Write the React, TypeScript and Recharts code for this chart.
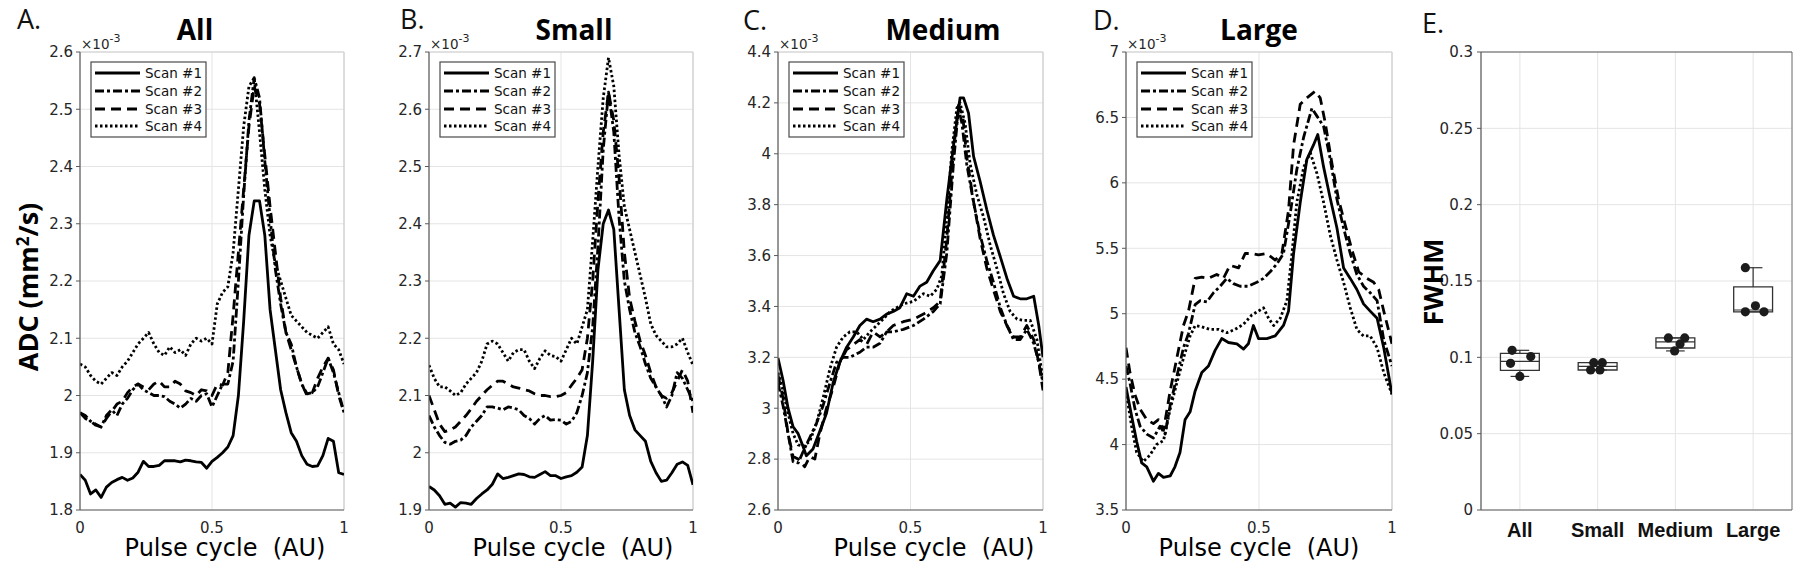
import React from 'react';
import {
  LineChart, Line, XAxis, YAxis, CartesianGrid, ReferenceLine, ReferenceArea,
  ComposedChart, Scatter,
} from 'recharts';

// ---------------- DATA ----------------
const scanNames = ['Scan #1', 'Scan #2', 'Scan #3', 'Scan #4'];
const panelTitles = ['All', 'Small', 'Medium', 'Large'];
const panelLetters = ['A.', 'B.', 'C.', 'D.', 'E.'];
const xTicks = [0, 0.5, 1];

// common pulse-cycle grid for panels A and B
const cycleGrid = [0, 0.02, 0.04, 0.06, 0.08, 0.1, 0.12, 0.14, 0.16, 0.18, 0.2, 0.22, 0.24, 0.26, 0.28, 0.3, 0.32, 0.34, 0.36, 0.38, 0.4, 0.42, 0.44, 0.46, 0.48, 0.5, 0.52, 0.54, 0.56, 0.58, 0.6, 0.62, 0.64, 0.66, 0.68, 0.7, 0.72, 0.74, 0.76, 0.78, 0.8, 0.82, 0.84, 0.86, 0.88, 0.9, 0.92, 0.94, 0.96, 0.98, 1];

// Panel A: All (x10^-3 mm^2/s)
const allScan1 = [1.862, 1.852, 1.828, 1.835, 1.822, 1.84, 1.848, 1.853, 1.857, 1.852, 1.856, 1.866, 1.885, 1.876, 1.876, 1.878, 1.886, 1.886, 1.886, 1.884, 1.887, 1.886, 1.884, 1.883, 1.873, 1.885, 1.892, 1.9, 1.91, 1.93, 2.0, 2.13, 2.28, 2.34, 2.34, 2.28, 2.15, 2.08, 2.01, 1.97, 1.935, 1.92, 1.895, 1.88, 1.876, 1.877, 1.895, 1.925, 1.92, 1.865, 1.862];
const allScan2 = [1.97, 1.965, 1.955, 1.95, 1.945, 1.965, 1.975, 1.965, 1.985, 1.995, 2.01, 2.02, 2.01, 2.005, 2.0, 2.0, 1.998, 1.99, 1.985, 1.978, 1.985, 1.995, 1.99, 2.0, 2.003, 1.98, 2.0, 2.02, 2.02, 2.06, 2.2, 2.35, 2.48, 2.555, 2.52, 2.41, 2.31, 2.22, 2.16, 2.11, 2.09, 2.05, 2.02, 2.003, 2.005, 2.015, 2.04, 2.065, 2.04, 2.005, 1.97];
const allScan3 = [1.97, 1.96, 1.955, 1.948, 1.945, 1.96, 1.972, 1.985, 1.99, 2.005, 2.015, 2.02, 2.015, 2.01, 2.02, 2.025, 2.015, 2.015, 2.025, 2.02, 2.008, 2.005, 2.0, 2.01, 2.008, 2.0, 2.02, 2.018, 2.04, 2.14, 2.25, 2.36, 2.47, 2.54, 2.51, 2.42, 2.33, 2.25, 2.17, 2.11, 2.08, 2.05, 2.02, 2.0, 2.005, 2.03, 2.05, 2.065, 2.045, 2.0, 1.97];
const allScan4 = [2.055, 2.05, 2.035, 2.025, 2.02, 2.03, 2.04, 2.035, 2.05, 2.06, 2.075, 2.09, 2.1, 2.11, 2.09, 2.075, 2.07, 2.085, 2.075, 2.08, 2.07, 2.09, 2.1, 2.095, 2.1, 2.09, 2.16, 2.18, 2.19, 2.25, 2.36, 2.47, 2.54, 2.555, 2.46, 2.36, 2.28, 2.23, 2.2, 2.17, 2.14, 2.13, 2.12, 2.11, 2.105, 2.1, 2.11, 2.12, 2.09, 2.08, 2.055];

// Panel B: Small
const smallScan1 = [1.941, 1.935, 1.925, 1.91, 1.912, 1.905, 1.913, 1.912, 1.91, 1.92, 1.928, 1.935, 1.945, 1.963, 1.955, 1.957, 1.96, 1.963, 1.962, 1.958, 1.957, 1.962, 1.967, 1.96, 1.96, 1.955, 1.958, 1.96, 1.966, 1.975, 2.03, 2.16, 2.32, 2.4, 2.424, 2.39, 2.25, 2.11, 2.065, 2.04, 2.03, 2.02, 1.985, 1.965, 1.95, 1.952, 1.965, 1.98, 1.984, 1.978, 1.944];
const smallScan2 = [2.065, 2.045, 2.03, 2.018, 2.015, 2.02, 2.022, 2.03, 2.045, 2.055, 2.065, 2.08, 2.08, 2.078, 2.075, 2.08, 2.078, 2.075, 2.065, 2.06, 2.05, 2.06, 2.065, 2.057, 2.058, 2.057, 2.05, 2.055, 2.07, 2.1, 2.14, 2.22, 2.36, 2.53, 2.63, 2.56, 2.41, 2.3, 2.25, 2.21, 2.185, 2.155, 2.13, 2.115, 2.1, 2.08, 2.1, 2.14, 2.13, 2.11, 2.09];
const smallScan3 = [2.1, 2.075, 2.05, 2.037, 2.04, 2.045, 2.055, 2.065, 2.077, 2.09, 2.1, 2.11, 2.118, 2.125, 2.125, 2.12, 2.115, 2.113, 2.11, 2.108, 2.103, 2.1, 2.1, 2.098, 2.098, 2.1, 2.105, 2.118, 2.13, 2.145, 2.2, 2.3, 2.44, 2.56, 2.63, 2.58, 2.48, 2.35, 2.27, 2.23, 2.195, 2.17, 2.14, 2.115, 2.1, 2.095, 2.105, 2.125, 2.145, 2.125, 2.07];
const smallScan4 = [2.153, 2.13, 2.115, 2.115, 2.108, 2.1, 2.105, 2.12, 2.13, 2.14, 2.16, 2.19, 2.195, 2.19, 2.175, 2.16, 2.175, 2.18, 2.18, 2.16, 2.147, 2.165, 2.178, 2.17, 2.168, 2.16, 2.18, 2.2, 2.19, 2.22, 2.25, 2.37, 2.5, 2.62, 2.69, 2.64, 2.52, 2.43, 2.39, 2.35, 2.31, 2.27, 2.225, 2.205, 2.195, 2.185, 2.185, 2.19, 2.2, 2.175, 2.153];

// Panel C: Medium  [pulse cycle, ADC]
const mediumScan1 = [[0, 3.197], [0.019, 3.11], [0.038, 3.0], [0.057, 2.927], [0.076, 2.9], [0.092, 2.856], [0.107, 2.813], [0.132, 2.84], [0.158, 2.91], [0.183, 2.98], [0.208, 3.1], [0.233, 3.18], [0.259, 3.24], [0.284, 3.28], [0.309, 3.325], [0.334, 3.35], [0.359, 3.34], [0.385, 3.35], [0.41, 3.37], [0.435, 3.38], [0.46, 3.395], [0.486, 3.45], [0.511, 3.44], [0.536, 3.48], [0.561, 3.495], [0.586, 3.54], [0.612, 3.58], [0.637, 3.82], [0.662, 4.03], [0.687, 4.22], [0.7, 4.22], [0.719, 4.16], [0.738, 3.99], [0.763, 3.89], [0.788, 3.78], [0.813, 3.68], [0.839, 3.595], [0.864, 3.51], [0.889, 3.44], [0.914, 3.43], [0.939, 3.43], [0.965, 3.44], [0.984, 3.325], [1, 3.2]];
const mediumScan2 = [[0, 3.1], [0.019, 3.01], [0.038, 2.9], [0.057, 2.79], [0.076, 2.785], [0.095, 2.83], [0.12, 2.885], [0.145, 2.94], [0.17, 3.01], [0.196, 3.1], [0.221, 3.18], [0.246, 3.2], [0.271, 3.2], [0.309, 3.22], [0.334, 3.24], [0.359, 3.24], [0.385, 3.255], [0.41, 3.3], [0.435, 3.3], [0.473, 3.31], [0.511, 3.325], [0.549, 3.35], [0.586, 3.38], [0.612, 3.41], [0.637, 3.61], [0.662, 3.96], [0.681, 4.18], [0.694, 4.12], [0.712, 3.96], [0.738, 3.81], [0.763, 3.68], [0.788, 3.58], [0.813, 3.495], [0.839, 3.395], [0.864, 3.325], [0.889, 3.27], [0.914, 3.27], [0.939, 3.31], [0.965, 3.255], [0.984, 3.18], [1, 3.1]];
const mediumScan3 = [[0, 3.13], [0.019, 3.04], [0.038, 2.9], [0.057, 2.81], [0.076, 2.8], [0.101, 2.77], [0.12, 2.81], [0.139, 2.8], [0.158, 2.9], [0.183, 3.0], [0.208, 3.08], [0.233, 3.18], [0.259, 3.23], [0.284, 3.25], [0.309, 3.27], [0.334, 3.25], [0.359, 3.3], [0.385, 3.28], [0.41, 3.3], [0.435, 3.325], [0.473, 3.34], [0.511, 3.35], [0.549, 3.37], [0.586, 3.395], [0.612, 3.42], [0.637, 3.665], [0.662, 4.01], [0.681, 4.19], [0.697, 4.15], [0.712, 3.99], [0.738, 3.81], [0.763, 3.665], [0.788, 3.55], [0.813, 3.465], [0.839, 3.38], [0.864, 3.325], [0.889, 3.28], [0.914, 3.28], [0.939, 3.325], [0.965, 3.27], [0.984, 3.18], [1, 3.07]];
const mediumScan4 = [[0, 3.14], [0.019, 3.07], [0.038, 2.98], [0.057, 2.9], [0.076, 2.856], [0.095, 2.85], [0.12, 2.87], [0.145, 2.94], [0.17, 3.04], [0.196, 3.155], [0.221, 3.24], [0.246, 3.28], [0.271, 3.3], [0.297, 3.3], [0.322, 3.27], [0.347, 3.3], [0.372, 3.325], [0.397, 3.35], [0.423, 3.38], [0.448, 3.395], [0.473, 3.41], [0.511, 3.42], [0.549, 3.45], [0.574, 3.44], [0.599, 3.467], [0.618, 3.52], [0.637, 3.75], [0.656, 4.01], [0.675, 4.18], [0.687, 4.2], [0.706, 4.12], [0.725, 3.96], [0.75, 3.84], [0.776, 3.75], [0.801, 3.64], [0.826, 3.55], [0.851, 3.45], [0.876, 3.38], [0.902, 3.35], [0.927, 3.345], [0.952, 3.345], [0.977, 3.27], [1, 3.11]];

// Panel D: Large  [pulse cycle, ADC]
const largeScan1 = [[0, 4.44], [0.021, 4.22], [0.04, 4.025], [0.059, 3.86], [0.078, 3.83], [0.103, 3.72], [0.122, 3.78], [0.141, 3.75], [0.166, 3.76], [0.184, 3.83], [0.203, 3.94], [0.222, 4.19], [0.241, 4.25], [0.26, 4.41], [0.285, 4.55], [0.31, 4.6], [0.335, 4.72], [0.36, 4.81], [0.385, 4.78], [0.417, 4.77], [0.442, 4.73], [0.46, 4.77], [0.479, 4.91], [0.498, 4.81], [0.529, 4.81], [0.561, 4.83], [0.592, 4.91], [0.611, 5.02], [0.63, 5.46], [0.655, 5.85], [0.68, 6.18], [0.705, 6.29], [0.721, 6.37], [0.743, 6.12], [0.768, 5.88], [0.793, 5.655], [0.818, 5.35], [0.843, 5.27], [0.868, 5.185], [0.893, 5.075], [0.918, 5.02], [0.944, 4.965], [0.969, 4.74], [1, 4.385]];
const largeScan2 = [[0, 4.6], [0.015, 4.47], [0.034, 4.27], [0.053, 4.14], [0.078, 4.08], [0.103, 4.05], [0.128, 4.14], [0.147, 4.08], [0.166, 4.3], [0.191, 4.52], [0.216, 4.74], [0.235, 4.85], [0.26, 5.07], [0.279, 5.1], [0.304, 5.09], [0.329, 5.16], [0.354, 5.21], [0.379, 5.27], [0.404, 5.23], [0.429, 5.21], [0.46, 5.21], [0.492, 5.24], [0.517, 5.27], [0.542, 5.32], [0.567, 5.38], [0.592, 5.46], [0.617, 5.76], [0.642, 6.1], [0.668, 6.35], [0.699, 6.57], [0.718, 6.51], [0.743, 6.43], [0.768, 6.18], [0.793, 5.875], [0.818, 5.655], [0.843, 5.46], [0.868, 5.3], [0.893, 5.21], [0.918, 5.16], [0.944, 5.1], [0.969, 4.8], [1, 4.6]];
const largeScan3 = [[0, 4.74], [0.015, 4.55], [0.034, 4.38], [0.053, 4.27], [0.078, 4.19], [0.103, 4.16], [0.122, 4.19], [0.141, 4.11], [0.166, 4.41], [0.191, 4.66], [0.216, 4.91], [0.235, 5.02], [0.26, 5.27], [0.285, 5.28], [0.31, 5.27], [0.341, 5.3], [0.366, 5.27], [0.391, 5.37], [0.423, 5.35], [0.448, 5.46], [0.473, 5.46], [0.498, 5.45], [0.529, 5.46], [0.561, 5.41], [0.586, 5.46], [0.611, 5.79], [0.63, 6.29], [0.655, 6.6], [0.68, 6.65], [0.711, 6.7], [0.73, 6.65], [0.749, 6.46], [0.774, 6.15], [0.799, 5.875], [0.824, 5.68], [0.849, 5.49], [0.875, 5.32], [0.906, 5.27], [0.931, 5.24], [0.95, 5.185], [0.969, 5.02], [1, 4.77]];
const largeScan4 = [[0, 4.41], [0.021, 4.14], [0.04, 3.94], [0.065, 3.87], [0.09, 3.92], [0.115, 4.0], [0.141, 4.03], [0.166, 4.27], [0.191, 4.47], [0.216, 4.66], [0.241, 4.83], [0.26, 4.91], [0.285, 4.9], [0.316, 4.88], [0.348, 4.88], [0.379, 4.855], [0.41, 4.88], [0.442, 4.92], [0.473, 4.99], [0.498, 5.02], [0.517, 5.045], [0.536, 4.965], [0.555, 4.91], [0.58, 4.965], [0.605, 5.1], [0.624, 5.46], [0.642, 5.85], [0.668, 6.12], [0.693, 6.23], [0.718, 6.07], [0.743, 5.85], [0.768, 5.6], [0.793, 5.41], [0.818, 5.24], [0.843, 5.045], [0.868, 4.88], [0.893, 4.83], [0.918, 4.83], [0.944, 4.74], [0.969, 4.55], [1, 4.385]];

const allYTicks = [1.8, 1.9, 2, 2.1, 2.2, 2.3, 2.4, 2.5, 2.6];
const smallYTicks = [1.9, 2, 2.1, 2.2, 2.3, 2.4, 2.5, 2.6, 2.7];
const mediumYTicks = [2.6, 2.8, 3, 3.2, 3.4, 3.6, 3.8, 4, 4.2, 4.4];
const largeYTicks = [3.5, 4, 4.5, 5, 5.5, 6, 6.5, 7];

// Panel E: FWHM
const fwhmCategories = ['All', 'Small', 'Medium', 'Large'];
const fwhmTicks = [0, 0.05, 0.1, 0.15, 0.2, 0.25, 0.3];
const fwhmAll = [0.1046, 0.0961, 0.1005, 0.0875];
const fwhmSmall = [0.0965, 0.0965, 0.0917, 0.0917];
const fwhmMedium = [0.1127, 0.1127, 0.1088, 0.1042];
const fwhmLarge = [0.1587, 0.1298, 0.1338, 0.1298];
const jitterAll = [-0.1, -0.12, 0.14, 0.0];
const jitterSmall = [-0.05, 0.06, -0.09, 0.03];
const jitterMedium = [-0.09, 0.12, 0.06, -0.01];
const jitterLarge = [-0.1, -0.1, 0.03, 0.14];
const boxQ1 = [0.0914, 0.0917, 0.1061, 0.1298];
const boxMedian = [0.0974, 0.0941, 0.1101, 0.131];
const boxQ3 = [0.1026, 0.0965, 0.1127, 0.1461];
const whiskerLow = [0.0875, 0.0917, 0.1042, 0.1298];
const whiskerHigh = [0.1046, 0.0965, 0.1127, 0.1587];

// ---------------- HELPERS ----------------
type Pt = { x: number; y: number };
const fromGrid = (ys: number[]): Pt[] => cycleGrid.map((x, i) => ({ x, y: ys[i] }));
const fromPairs = (p: number[][]): Pt[] => p.map(([x, y]) => ({ x, y }));
const fmt = (v: number) => String(Number(Number(v).toFixed(3)));

const dashes: (string | undefined)[] = [undefined, '9 3 3 3', '10 6', '2.5 2.5'];
const LINE_W = 2.8;
const TICK_FONT = { fill: '#262626', fontSize: 15, fontFamily: 'DejaVu Sans' };
const AXIS_COLOR = '#5a5a5a';
const GRID_COLOR = '#e4e4e4';
const FRAME_LIGHT = '#cfcfcf';

const TOP = 52;
const BOTTOM = 510;

const linePanels = [
  { plotLeft: 80, plotWidth: 264, domain: [1.8, 2.6], ticks: allYTicks,
    series: [fromGrid(allScan1), fromGrid(allScan2), fromGrid(allScan3), fromGrid(allScan4)],
    titleX: 195, xlabelX: 225, letterX: 17, letterY: 29 },
  { plotLeft: 429, plotWidth: 264, domain: [1.9, 2.7], ticks: smallYTicks,
    series: [fromGrid(smallScan1), fromGrid(smallScan2), fromGrid(smallScan3), fromGrid(smallScan4)],
    titleX: 574, xlabelX: 573, letterX: 400, letterY: 29 },
  { plotLeft: 778, plotWidth: 265, domain: [2.6, 4.4], ticks: mediumYTicks,
    series: [fromPairs(mediumScan1), fromPairs(mediumScan2), fromPairs(mediumScan3), fromPairs(mediumScan4)],
    titleX: 943, xlabelX: 934, letterX: 743, letterY: 30 },
  { plotLeft: 1126, plotWidth: 266, domain: [3.5, 7], ticks: largeYTicks,
    series: [fromPairs(largeScan1), fromPairs(largeScan2), fromPairs(largeScan3), fromPairs(largeScan4)],
    titleX: 1259, xlabelX: 1259, letterX: 1093, letterY: 30 },
];

function LinePanel({ p }: { p: any }) {
  const yAxisW = 80;
  const width = 360;
  const right = width - yAxisW - p.plotWidth;
  return (
    <div style={{ position: 'absolute', left: p.plotLeft - yAxisW, top: 0 }}>
      <LineChart width={width} height={568} margin={{ top: TOP, right, bottom: 568 - BOTTOM - 30, left: 0 }}>
        <CartesianGrid stroke={GRID_COLOR} strokeWidth={1} />
        <XAxis type="number" dataKey="x" domain={[0, 1]} ticks={xTicks} interval={0}
          tickFormatter={fmt} tickLine={false} tickSize={0} tickMargin={12} height={30}
          axisLine={{ stroke: AXIS_COLOR, strokeWidth: 1.2 }} tick={TICK_FONT} allowDataOverflow />
        <YAxis type="number" domain={p.domain} ticks={p.ticks} interval={0} width={yAxisW}
          tickFormatter={fmt} tickSize={4} tickMargin={3}
          tickLine={{ stroke: AXIS_COLOR }} axisLine={{ stroke: AXIS_COLOR, strokeWidth: 1.2 }}
          tick={TICK_FONT} allowDataOverflow />
        <ReferenceLine x={1} stroke={FRAME_LIGHT} strokeWidth={1.2} />
        <ReferenceLine y={p.domain[1]} stroke={FRAME_LIGHT} strokeWidth={1.2} />
        {p.series.map((s: Pt[], i: number) => (
          <Line key={i} data={s} dataKey="y" type="linear" dot={false} activeDot={false}
            stroke="#000" strokeWidth={LINE_W} strokeDasharray={dashes[i]}
            strokeLinejoin="round" isAnimationActive={false} />
        ))}
      </LineChart>
    </div>
  );
}

const fwhmSets = [fwhmAll, fwhmSmall, fwhmMedium, fwhmLarge];
const jitterSets = [jitterAll, jitterSmall, jitterMedium, jitterLarge];

function BoxPanel() {
  const points = fwhmSets.flatMap((vals, c) =>
    vals.map((v, i) => ({ x: c + 1 + jitterSets[c][i], y: v })));
  const boxStroke = '#333';
  return (
    <div style={{ position: 'absolute', left: 1400, top: 0 }}>
      <ComposedChart width={400} height={568} margin={{ top: TOP, right: 8, bottom: 568 - BOTTOM - 30, left: 0 }}>
        <CartesianGrid stroke={GRID_COLOR} strokeWidth={1} />
        <XAxis type="number" dataKey="x" domain={[0.5, 4.5]} ticks={[1, 2, 3, 4]} interval={0}
          tickFormatter={(v: number) => fwhmCategories[Math.round(v) - 1]}
          tickLine={false} tickSize={0} tickMargin={13} height={30}
          axisLine={{ stroke: AXIS_COLOR, strokeWidth: 1.2 }}
          tick={{ fill: '#111', fontSize: 20, fontWeight: 700, fontFamily: 'Liberation Sans, Arial' }}
          allowDataOverflow />
        <YAxis type="number" dataKey="y" domain={[0, 0.3]} ticks={fwhmTicks} interval={0} width={81}
          tickFormatter={fmt} tickSize={4} tickMargin={4}
          tickLine={{ stroke: AXIS_COLOR }} axisLine={{ stroke: AXIS_COLOR, strokeWidth: 1.2 }}
          tick={TICK_FONT} allowDataOverflow />
        <ReferenceLine x={4.5} stroke="#8a8a8a" strokeWidth={1.2} />
        <ReferenceLine y={0.3} stroke={AXIS_COLOR} strokeWidth={1.2} />
        {fwhmCategories.map((_, c) => {
          const cx = c + 1;
          return (
            <React.Fragment key={c}>
              <ReferenceLine segment={[{ x: cx, y: boxQ3[c] }, { x: cx, y: whiskerHigh[c] }]} stroke={boxStroke} strokeWidth={1.2} />
              <ReferenceLine segment={[{ x: cx, y: boxQ1[c] }, { x: cx, y: whiskerLow[c] }]} stroke={boxStroke} strokeWidth={1.2} />
              <ReferenceLine segment={[{ x: cx - 0.12, y: whiskerHigh[c] }, { x: cx + 0.12, y: whiskerHigh[c] }]} stroke={boxStroke} strokeWidth={1.2} />
              <ReferenceLine segment={[{ x: cx - 0.12, y: whiskerLow[c] }, { x: cx + 0.12, y: whiskerLow[c] }]} stroke={boxStroke} strokeWidth={1.2} />
              <ReferenceArea x1={cx - 0.25} x2={cx + 0.25} y1={boxQ1[c]} y2={boxQ3[c]}
                fill="#fff" fillOpacity={0} stroke={boxStroke} strokeWidth={1.3} />
              <ReferenceLine segment={[{ x: cx - 0.25, y: boxMedian[c] }, { x: cx + 0.25, y: boxMedian[c] }]} stroke={boxStroke} strokeWidth={1.2} />
            </React.Fragment>
          );
        })}
        <Scatter data={points} dataKey="y" isAnimationActive={false}
          shape={(props: any) => <circle cx={props.cx} cy={props.cy} r={4.6} fill="#1c1c1c" />} />
      </ComposedChart>
    </div>
  );
}

function Overlay() {
  const legendRows = [73, 91, 109, 126];
  return (
    <svg width={1800} height={568} style={{ position: 'absolute', left: 0, top: 0, pointerEvents: 'none' }}>
      {linePanels.map((p, k) => (
        <g key={k}>
          <text x={p.letterX} y={p.letterY} fontFamily="Open Sans" fontSize={27} fill="#111">{panelLetters[k]}</text>
          <text x={p.titleX} y={40} textAnchor="middle" fontFamily="Open Sans" fontWeight={700} fontSize={28} fill="#000">{panelTitles[k]}</text>
          <text x={p.plotLeft + 1} y={49} fontFamily="DejaVu Sans" fontSize={13.5} fill="#262626">
            ×10<tspan dy={-7} fontSize={11}>-3</tspan>
          </text>
          <text x={p.xlabelX} y={556} textAnchor="middle" fontFamily="DejaVu Sans" fontSize={24} fill="#000" style={{ whiteSpace: 'pre' }}>{'Pulse cycle  (AU)'}</text>
          <rect x={p.plotLeft + 11} y={62} width={115} height={75} fill="#fff" stroke="#4a4a4a" strokeWidth={1.2} />
          {scanNames.map((n, i) => (
            <g key={i}>
              <line x1={p.plotLeft + 15} x2={p.plotLeft + 60} y1={legendRows[i]} y2={legendRows[i]}
                stroke="#000" strokeWidth={LINE_W} strokeDasharray={dashes[i]} />
              <text x={p.plotLeft + 65} y={legendRows[i]} dy="0.35em" fontFamily="DejaVu Sans" fontSize={13.5} fill="#111">{n}</text>
            </g>
          ))}
        </g>
      ))}
      <text x={38} y={287} textAnchor="middle" transform="rotate(-90 38 287)" fontFamily="Open Sans" fontWeight={700} fontSize={27} fill="#000">
        ADC  (mm<tspan dy={-9} fontSize={17}>2</tspan><tspan dy={9}>/s)</tspan>
      </text>
      <text x={1422} y={33} fontFamily="Open Sans" fontSize={27} fill="#111">{panelLetters[4]}</text>
      <text x={1443} y={282} textAnchor="middle" transform="rotate(-90 1443 282)" fontFamily="Open Sans" fontWeight={700} fontSize={27} fill="#000">FWHM</text>
    </svg>
  );
}

export default function App() {
  return (
    <div style={{ position: 'absolute', left: 0, top: 0, width: 1800, height: 568, background: '#fff', overflow: 'hidden' }}>
      {linePanels.map((p, k) => <LinePanel key={k} p={p} />)}
      <BoxPanel />
      <Overlay />
    </div>
  );
}
